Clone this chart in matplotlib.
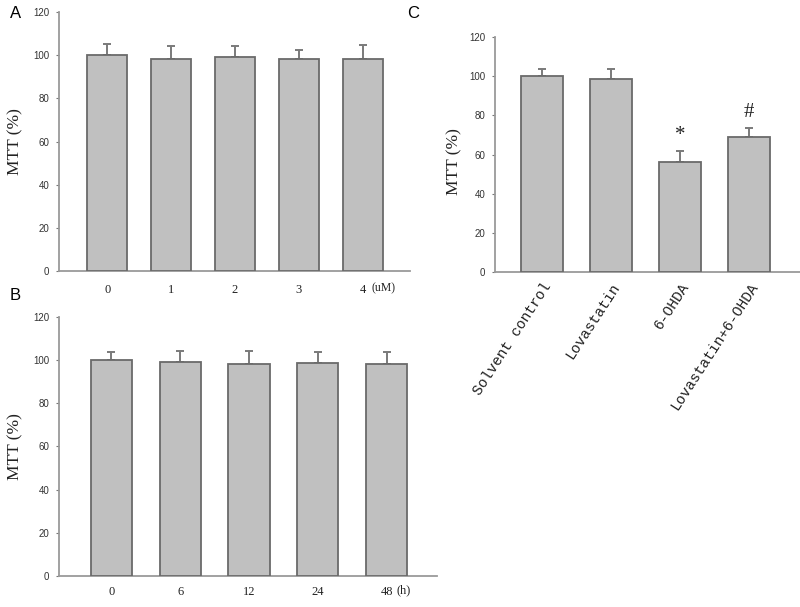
#!/usr/bin/env python3
"""MTT bar panels A, B, C rebuilt with matplotlib."""

import matplotlib
matplotlib.use("Agg")
import matplotlib.pyplot as plt
import matplotlib.transforms as mtransforms

# panel A: concentration series
conc_labels = ["0", "1", "2", "3", "4"]
conc_mtt = [100.3, 98.4, 99.1, 98.3, 98.1]
conc_err = [4.8, 5.8, 5.0, 4.2, 6.8]

# panel B: time series
time_labels = ["0", "6", "12", "24", "48"]
time_mtt = [100.1, 99.2, 98.4, 98.7, 98.0]
time_err = [3.6, 5.0, 5.7, 4.9, 5.5]

# panel C: treatments
treat_labels = ["Solvent control", "Lovastatin", "6-OHDA", "Lovastatin+6-OHDA"]
treat_mtt = [100.3, 98.9, 56.4, 68.8]
treat_err = [3.6, 5.0, 5.6, 4.8]
treat_marks = ["", "", "*", "#"]

yticks = [0, 20, 40, 60, 80, 100, 120]

BAR_FILL = "#c0c0c0"
BAR_EDGE = "#6a6a6a"
AXIS_COL = "#9a9a9a"


def draw_bars(ax, values, errs, xlim, width=0.6):
    xs = list(range(len(values)))
    ax.errorbar(xs, values, yerr=[[0] * len(errs), errs], fmt="none",
                ecolor="#7a7a7a", elinewidth=1.4, capsize=3, capthick=1.4,
                zorder=2)
    ax.bar(xs, values, width=width, color=BAR_FILL, edgecolor=BAR_EDGE,
           linewidth=1.3, zorder=3)
    ax.set_xlim(*xlim)
    ax.set_ylim(0, 120)
    ax.set_yticks(yticks)
    ax.set_xticks(xs)
    for side in ("top", "right"):
        ax.spines[side].set_visible(False)
    for side in ("left", "bottom"):
        ax.spines[side].set_color(AXIS_COL)
        ax.spines[side].set_linewidth(1.3)
    ax.tick_params(axis="y", length=2, width=0.8, color="#777777",
                   labelsize=7, pad=5, labelcolor="#333333")
    for lab in ax.get_yticklabels():
        lab.set_family("Liberation Sans")
    ax.set_ylabel("MTT (%)", family="Liberation Serif", fontsize=12.5,
                  color="#222222")
    return xs


fig = plt.figure(figsize=(8.0, 6.07), dpi=100)

# panel A
axA = fig.add_axes([0.074, 0.5535, 0.438, 0.4265])
draw_bars(axA, conc_mtt, conc_err, (-0.75, 4.73), width=0.62)
axA.set_xticklabels(conc_labels, family="Liberation Serif", fontsize=9,
                    color="#222222")
axA.tick_params(axis="x", length=0, pad=9)
axA.yaxis.set_label_coords(-0.103, 0.5)
trA = mtransforms.blended_transform_factory(axA.transData, axA.transAxes)
axA.text(4.13, -0.068, "(uM)", transform=trA, family="Liberation Serif",
         fontsize=8.5, va="center", ha="left", color="#222222")
fig.text(0.012, 0.978, "A", family="Liberation Sans", fontsize=12,
         va="center", ha="left")

# panel B
axB = fig.add_axes([0.074, 0.051, 0.472, 0.427])
draw_bars(axB, time_mtt, time_err, (-0.76, 4.73), width=0.6)
axB.set_xticklabels(time_labels, family="Liberation Serif", fontsize=9,
                    color="#222222")
axB.tick_params(axis="x", length=0, pad=7)
axB.yaxis.set_label_coords(-0.095, 0.5)
trB = mtransforms.blended_transform_factory(axB.transData, axB.transAxes)
axB.text(4.15, -0.056, "(h)", transform=trB, family="Liberation Serif",
         fontsize=9, va="center", ha="left", color="#222222")
fig.text(0.012, 0.513, "B", family="Liberation Sans", fontsize=12,
         va="center", ha="left")

# panel C
axC = fig.add_axes([0.619, 0.552, 0.381, 0.3866])
xsC = draw_bars(axC, treat_mtt, treat_err, (-0.68, 3.74), width=0.61)
axC.set_xticklabels(treat_labels, family="Liberation Mono", fontsize=10.5,
                    rotation=57, ha="right", rotation_mode="anchor",
                    color="#222222")
axC.tick_params(axis="x", length=0, pad=6)
axC.yaxis.set_label_coords(-0.108, 0.47)
for x, v, e, m in zip(xsC, treat_mtt, treat_err, treat_marks):
    if m:
        axC.text(x, v + e + 3, m, ha="center", va="bottom", fontsize=15,
                 family="Liberation Serif", color="#222222")
fig.text(0.509, 0.978, "C", family="Liberation Sans", fontsize=12,
         va="center", ha="left")

fig.savefig("out.png", dpi=100)
